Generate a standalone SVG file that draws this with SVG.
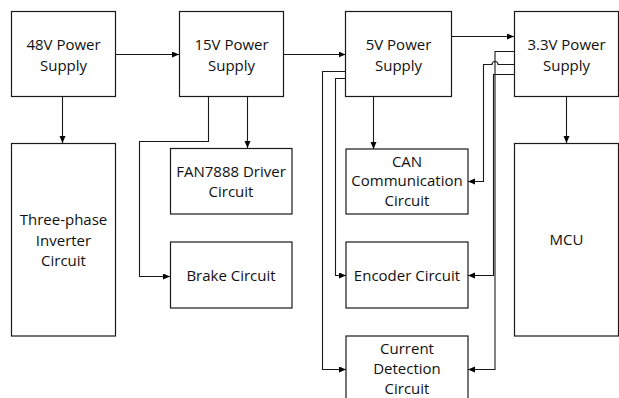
<svg xmlns="http://www.w3.org/2000/svg" width="619" height="398" viewBox="0 0 619 398">
<defs>
<style>
.box{fill:#fff;stroke:#1a1a1a;stroke-width:1.2}
.t{font-family:"Open Sans","Liberation Sans",sans-serif;font-size:15px;fill:#111;text-anchor:middle}
.c{fill:none;stroke:#1a1a1a;stroke-width:1.1}
</style>
<marker id="ah" markerUnits="userSpaceOnUse" markerWidth="8" markerHeight="8" refX="7" refY="3" orient="auto">
<path d="M0,0 L7,3 L0,6 z" fill="#000"/>
</marker>
</defs>
<rect width="619" height="398" fill="#fff"/>
<g id="connectors">
<path class="c" d="M116 54.5 H179" marker-end="url(#ah)"/>
<path class="c" d="M284 54.5 H345.5" marker-end="url(#ah)"/>
<path class="c" d="M452 36.5 H514" marker-end="url(#ah)"/>
<path class="c" d="M62.5 97 V143" marker-end="url(#ah)"/>
<path class="c" d="M247.5 97 V148" marker-end="url(#ah)"/>
<path class="c" d="M208.5 97 V141.5 H139.5 V276.5 H170" marker-end="url(#ah)"/>
<path class="c" d="M373.5 97 V149" marker-end="url(#ah)"/>
<path class="c" d="M345.5 71.5 H322.5 V369.5 H346" marker-end="url(#ah)"/>
<path class="c" d="M345.5 78.5 H335.5 V275.5 H346" marker-end="url(#ah)"/>
<path class="c" d="M514 64.5 H498 A3 3 0 0 0 492 64.5 H483.5 V181.5 H468" marker-end="url(#ah)"/>
<path class="c" d="M514 51.5 H495 V369.5 H468" marker-end="url(#ah)"/>
<path class="c" d="M514 74.5 H493.5 V275.5 H468" marker-end="url(#ah)"/>
<path class="c" d="M566.5 97 V143" marker-end="url(#ah)"/>
</g>
<g id="n48"><rect class="box" x="11.5" y="11.5" width="104" height="85"/><text class="t" x="63.5" y="50">48V Power</text><text class="t" x="63.5" y="70.5">Supply</text></g>
<g id="n15"><rect class="box" x="179.5" y="11.5" width="104" height="85"/><text class="t" x="231.5" y="50">15V Power</text><text class="t" x="231.5" y="70.5">Supply</text></g>
<g id="n5"><rect class="box" x="345.5" y="11.5" width="106" height="85"/><text class="t" x="398.5" y="50">5V Power</text><text class="t" x="398.5" y="70.5">Supply</text></g>
<g id="n33"><rect class="box" x="514.5" y="11.5" width="104" height="85"/><text class="t" x="566.5" y="50">3.3V Power</text><text class="t" x="566.5" y="70.5">Supply</text></g>
<g id="inverter"><rect class="box" x="11.5" y="143.5" width="104" height="192.5"/><text class="t" x="63.5" y="225">Three-phase</text><text class="t" x="63.5" y="245.5">Inverter</text><text class="t" x="63.5" y="266">Circuit</text></g>
<g id="fan"><rect class="box" x="170.5" y="148.5" width="121.5" height="65.5"/><text class="t" x="231" y="176.5">FAN7888 Driver</text><text class="t" x="231" y="196.5">Circuit</text></g>
<g id="brake"><rect class="box" x="170.5" y="242" width="121.5" height="66"/><text class="t" x="231" y="281">Brake Circuit</text></g>
<g id="can"><rect class="box" x="346" y="149" width="122" height="65"/><text class="t" x="407" y="166.5">CAN</text><text class="t" x="407" y="186">Communication</text><text class="t" x="407" y="205.5">Circuit</text></g>
<g id="encoder"><rect class="box" x="346" y="242" width="122" height="66"/><text class="t" x="407" y="281">Encoder Circuit</text></g>
<g id="current"><rect class="box" x="346" y="336" width="122" height="80"/><text class="t" x="407" y="354">Current</text><text class="t" x="407" y="374">Detection</text><text class="t" x="407" y="394">Circuit</text></g>
<g id="mcu"><rect class="box" x="514.5" y="143.5" width="104" height="192.5"/><text class="t" x="566.5" y="245">MCU</text></g>
</svg>
